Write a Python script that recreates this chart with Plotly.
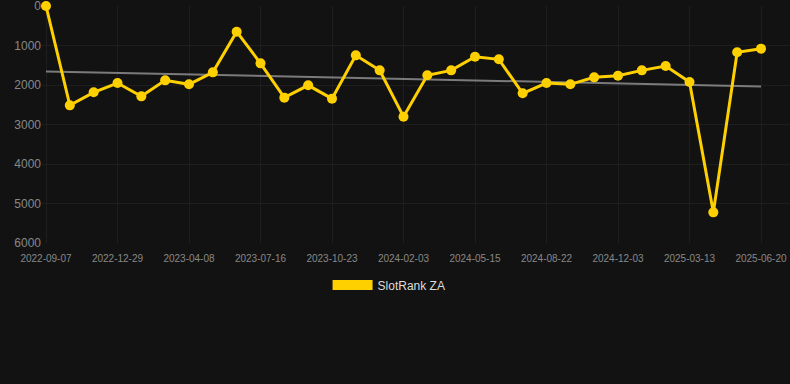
import numpy as np
import plotly.graph_objects as go

dates = [
    "2022-09-07", "2022-10-14", "2022-11-21",
    "2022-12-29", "2023-02-01", "2023-03-06",
    "2023-04-08", "2023-05-11", "2023-06-13",
    "2023-07-16", "2023-08-18", "2023-09-20",
    "2023-10-23", "2023-11-26", "2023-12-31",
    "2024-02-03", "2024-03-08", "2024-04-11",
    "2024-05-15", "2024-06-20", "2024-07-17",
    "2024-08-22", "2024-09-25", "2024-10-30",
    "2024-12-03", "2025-01-06", "2025-02-08",
    "2025-03-13", "2025-04-15", "2025-05-18",
    "2025-06-20",
]
ranks = [
    0, 2515, 2185, 1950, 2287, 1882, 1983, 1680, 650, 1452,
    2320, 2008, 2345, 1249, 1629, 2802, 1755, 1629, 1283, 1350,
    2211, 1950, 1983, 1806, 1764, 1629, 1519, 1924, 5224, 1173,
    1080,
]
tick_labels = dates[::3]
y_ticks = [0, 1000, 2000, 3000, 4000, 5000, 6000]
series_name = "SlotRank ZA"

idx = np.arange(len(ranks))
slope, intercept = np.polyfit(idx, ranks, 1)
trend = slope * idx + intercept

gold = "#FFD000"
fig = go.Figure()
fig.add_trace(go.Scatter(
    x=dates, y=trend, mode="lines",
    line=dict(color="rgba(150,150,150,0.8)", width=2),
    showlegend=False, hoverinfo="skip",
))
fig.add_trace(go.Scatter(
    x=dates, y=ranks, mode="lines+markers",
    line=dict(color=gold, width=3),
    marker=dict(color=gold, size=10),
    cliponaxis=False,
    showlegend=False,
))
fig.add_trace(go.Scatter(
    x=[None], y=[None], mode="lines",
    line=dict(color=gold, width=11),
    name=series_name, showlegend=True,
))

fig.update_layout(
    width=790, height=384,
    paper_bgcolor="#121212", plot_bgcolor="#121212",
    margin=dict(l=42, r=0, t=6, b=141),
    font=dict(family="Liberation Sans, Arial, sans-serif", color="#888888"),
    showlegend=True,
    legend=dict(
        orientation="h", x=0.464, xanchor="center",
        y=-0.177, yanchor="middle",
        itemwidth=40,
        font=dict(size=12, color="#dddddd"),
        bgcolor="rgba(0,0,0,0)",
    ),
    xaxis=dict(
        type="category",
        categoryorder="array", categoryarray=dates,
        range=[-0.168, len(dates) - 1 + 1.217],
        tickvals=tick_labels, ticktext=tick_labels,
        tickangle=0,
        tickfont=dict(size=10, color="#888888"),
        showgrid=True, gridcolor="#1e1e1e", gridwidth=1,
        zeroline=False, showline=False,
        ticks="", ticklabelstandoff=8,
        ticklabeloverflow="allow",
    ),
    yaxis=dict(
        range=[6000, 0],
        tickvals=y_ticks,
        tickfont=dict(size=12, color="#888888"),
        showgrid=True, gridcolor="#1e1e1e", gridwidth=1,
        zeroline=False, showline=False, ticks="",
        ticklabeloverflow="allow",
    ),
)

fig.write_html(
    "out.html",
    config={"displayModeBar": False},
    post_script="document.body.style.margin='0';document.body.style.padding='0';"
                "document.body.style.background='#121212';",
)
